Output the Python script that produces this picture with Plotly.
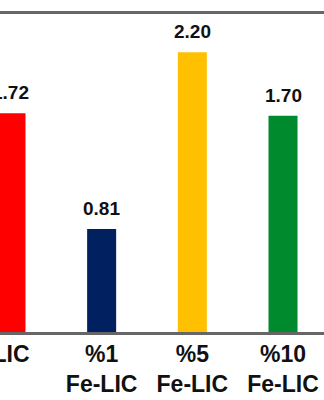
import plotly.graph_objects as go

categories = ["LIC", "%1<br>Fe-LIC", "%5<br>Fe-LIC", "%10<br>Fe-LIC"]
values = [1.72, 0.81, 2.20, 1.70]
labels = ["1.72", "0.81", "2.20", "1.70"]
colors = ["#FF0000", "#002060", "#FFC000", "#008A2E"]

x = list(range(len(categories)))

fig = go.Figure()
fig.add_trace(go.Bar(
    x=x, y=values, width=0.32,
    marker=dict(color=colors, line=dict(width=0)),
    showlegend=False, hoverinfo="skip",
))

for xi, v, t in zip(x, values, labels):
    fig.add_annotation(x=xi, y=v, text=f"<b>{t}</b>", showarrow=False,
                       yanchor="bottom", yshift=8,
                       font=dict(family="Liberation Sans, Arial", size=19, color="#111111"))

ticktext = ["<br>".join(f"<b>{part}</b>" for part in c.split("<br>")) for c in categories]

fig.update_layout(
    width=324, height=400,
    margin=dict(l=0, r=0, t=14, b=68, pad=0, autoexpand=False),
    plot_bgcolor="white", paper_bgcolor="white",
    font=dict(family="Liberation Sans, Arial", color="#111111"),
    xaxis=dict(
        range=[-0.121, 3.452], automargin=False,
        tickmode="array", tickvals=x, ticktext=ticktext,
        tickfont=dict(size=23, color="#111111"),
        ticklabeloverflow="allow",
        showline=True, linecolor="#666666", linewidth=2.5, mirror=True,
        showgrid=False, zeroline=False, ticks="",
    ),
    yaxis=dict(
        range=[0, 2.5], showticklabels=False, showgrid=False, automargin=False,
        zeroline=False, showline=False, ticks="",
    ),
)

fig.write_html("out.html")
